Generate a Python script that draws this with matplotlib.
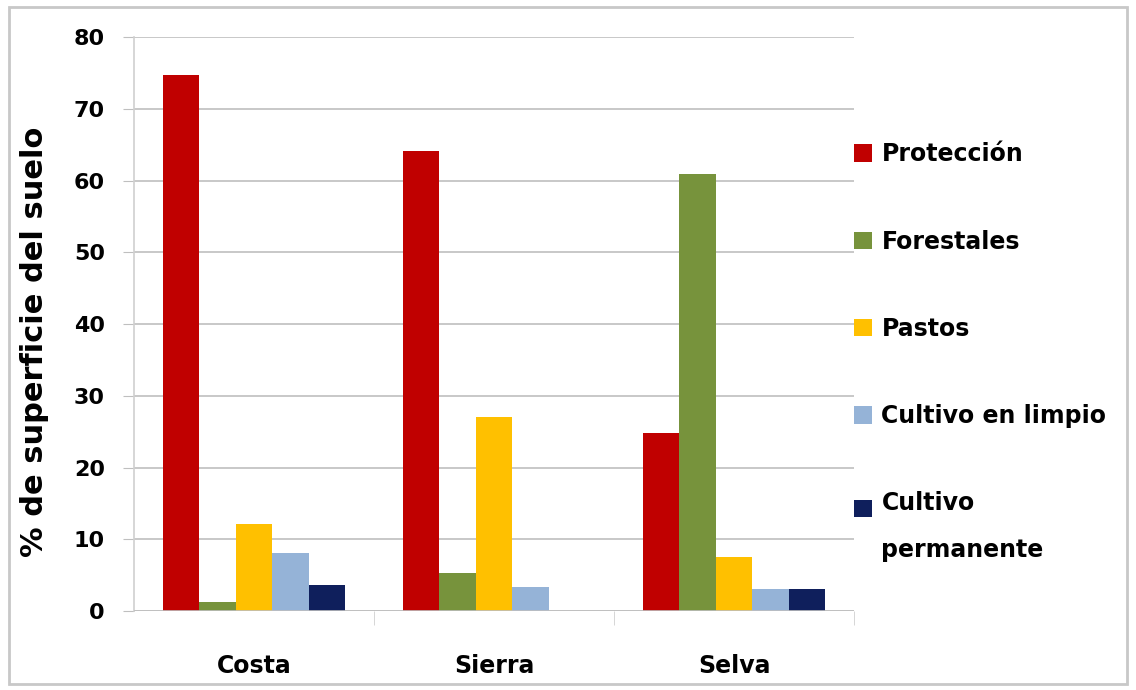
import matplotlib.pyplot as plt
import numpy as np
from matplotlib.patches import Rectangle

regiones = ['Costa', 'Sierra', 'Selva']
series = ['Protección', 'Forestales', 'Pastos', 'Cultivo en limpio', 'Cultivo\npermanente']
proteccion = [74.7, 64.1, 24.8]
forestales = [1.2, 5.3, 61.0]
pastos = [12.2, 27.0, 7.5]
cultivo_limpio = [8.1, 3.3, 3.1]
cultivo_permanente = [3.6, 0.0, 3.0]
valores = [proteccion, forestales, pastos, cultivo_limpio, cultivo_permanente]
colores = ['#C00000', '#77933C', '#FFC000', '#95B3D7', '#0F1F5C']

plt.rcParams['font.family'] = ['DejaVu Sans']

fig = plt.figure(figsize=(11.36, 6.90), dpi=100)
ax = fig.add_axes([0.118, 0.1145, 0.634, 0.8315])

x = np.arange(len(regiones))
w = 0.152
for i, (vals, c, lab) in enumerate(zip(valores, colores, series)):
    ax.bar(x + (i - 2) * w, vals, w, color=c, label=lab, zorder=3)

ax.set_xlim(-0.5, 2.5)
ax.set_ylim(0, 80)
ax.set_yticks(range(0, 81, 10))
ax.yaxis.grid(True, color='#BFBFBF', linewidth=1.2, zorder=0)
for s in ['top', 'right', 'bottom']:
    ax.spines[s].set_visible(False)
ax.spines['left'].set_color('#D0D0D0')
ax.spines['left'].set_linewidth(1.2)
ax.axhline(0, color='#BFBFBF', linewidth=1.2, zorder=4)

ax.tick_params(axis='y', length=8, color='#BFBFBF', labelsize=16, pad=13)
for t in ax.get_yticklabels():
    t.set_fontweight('bold')

ax.set_xticks(x)
ax.set_xticklabels(regiones, fontsize=17, fontweight='bold')
ax.tick_params(axis='x', length=0, pad=31)
ax.set_xticks([0.5, 1.5, 2.5], minor=True)
ax.tick_params(axis='x', which='minor', length=10, color='#D0D0D0')

ax.set_ylabel('% de superficie del suelo', fontsize=22, fontweight='bold')
ax.yaxis.set_label_coords(-0.118, 0.47)

leg = ax.legend(loc='upper left', bbox_to_anchor=(1.0, 0.817), frameon=False,
                borderaxespad=0, borderpad=0,
                handlelength=0.75, handleheight=0.75, handletextpad=0.4,
                labelspacing=2.68, prop={'size': 17, 'weight': 'bold'})
for t in leg.get_texts():
    t.set_linespacing(2.2)
# square of the two-line entry sits beside its first line
last = leg.legend_handles[-1]
last.set_y(last.get_y() + 14)

fig.patches.append(Rectangle((0.008, 0.008), 0.984, 0.982, transform=fig.transFigure,
                             fill=False, edgecolor='#C8C8C8', linewidth=2))

fig.savefig('out.png', dpi=100)
